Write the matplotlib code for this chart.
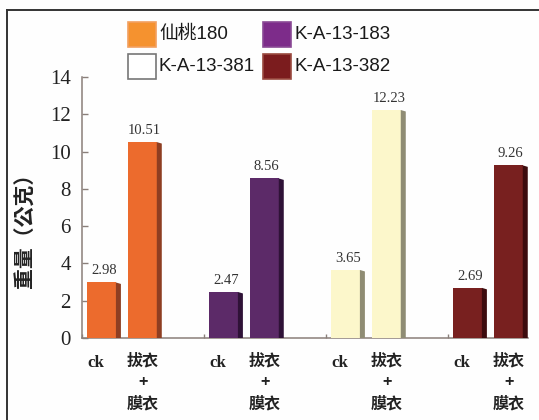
import matplotlib
matplotlib.use("Agg")
import matplotlib.pyplot as plt
from matplotlib.patches import Polygon, Rectangle
from matplotlib.lines import Line2D
from matplotlib.transforms import blended_transform_factory

# ---- data ----
varieties = ["仙桃180", "K-A-13-183", "K-A-13-381", "K-A-13-382"]
ck_values = [2.98, 2.47, 3.65, 2.69]
treated_values = [10.51, 8.56, 12.23, 9.26]
treatment_labels = ["ck", "拔衣\n+\n膜衣"]
y_ticks = [0, 2, 4, 6, 8, 10, 12, 14]
y_label = "重量（公克）"

# ---- styling ----
front_colors = ["#EC6B2D", "#5C2A68", "#FCF7CB", "#78201F"]
side_colors = ["#8E3E22", "#2F1237", "#8F8C74", "#3D0C0E"]
legend_colors = ["#F5922F", "#7D2C8A", "#FFFFFF", "#7B1C1E"]
legend_edges = ["#F2A060", "#8A4A95", "#777777", "#9A4A40"]
axis_color = "#8A7F7A"

W, H = 539, 420
fig = plt.figure(figsize=(W / 100, H / 100), dpi=100, facecolor="#FEFEFE")
ax = fig.add_axes([82 / W, 82 / H, 446 / W, 261 / H])
ax.set_facecolor("none")

front_w = 0.238
side_w = 0.041
offsets = [0.040, 0.375]
bevel = 0.08

for i in range(len(varieties)):
    for k, vals in enumerate([ck_values, treated_values]):
        x0 = i + offsets[k]
        h = vals[i]
        ax.bar(x0, h, width=front_w, align="edge", color=front_colors[i],
               edgecolor="none", zorder=3)
        x1 = x0 + front_w
        ax.add_patch(Polygon([(x1, 0), (x1 + side_w, 0), (x1 + side_w, h - bevel),
                              (x1, h)], closed=True, facecolor=side_colors[i],
                             edgecolor="none", zorder=3))
        ax.text(x0 + (front_w + side_w) / 2, h + 0.28, f"{h:.2f}",
                ha="center", va="bottom", fontsize=10.5,
                family="Liberation Serif", color="#333333", zorder=4)

ax.set_xlim(0, 3.656)
ax.set_ylim(0, 14)
ax.set_yticks(y_ticks)
ax.set_yticklabels([str(t) for t in y_ticks], family="Liberation Serif",
                   fontsize=15, color="#222222")
ax.set_xticks([0, 1, 2, 3])
ax.set_xticklabels([])
ax.tick_params(axis="y", direction="in", length=4, width=1, color=axis_color, pad=8)
ax.tick_params(axis="x", direction="in", length=3, width=1, color=axis_color)
for s in ["top", "right"]:
    ax.spines[s].set_visible(False)
for s in ["left", "bottom"]:
    ax.spines[s].set_color(axis_color)
    ax.spines[s].set_linewidth(1.1)

# category labels under each pair of bars
tr = blended_transform_factory(ax.transData, fig.transFigure)
cjk = ["Noto Sans CJK TC", "DejaVu Sans"]
for i in range(len(varieties)):
    ax.text(i + 0.115, 1 - 363 / H, treatment_labels[0], transform=tr,
            ha="center", va="center", fontsize=12, fontweight="bold",
            family="Liberation Serif", color="#222222")
    lines = treatment_labels[1].split("\n")
    for j, (line, py) in enumerate(zip(lines, [360, 382, 403])):
        ax.text(i + 0.50, 1 - py / H, line, transform=tr, ha="center",
                va="center", fontsize=11.5, fontweight="bold", family=cjk,
                color="#222222")

fig.text(25 / W, 1 - 225 / H, y_label, rotation=90, ha="center", va="center",
         fontsize=15, fontweight="bold", family=cjk, color="#222222")

# legend, two rows of two entries
legend_pos = [(128, 22), (263, 22), (128, 54), (263, 54)]
for (px, py), name, fc, ec in zip(legend_pos, varieties, legend_colors, legend_edges):
    fig.patches.append(Rectangle((px / W, 1 - (py + 25) / H), 28 / W, 25 / H,
                                 transform=fig.transFigure, facecolor=fc,
                                 edgecolor=ec, linewidth=1.2))
    fig.text((px + 31) / W, 1 - (py + 12.5) / H, name, ha="left", va="center",
             fontsize=13.5, family=["Liberation Sans", "Noto Sans CJK TC"],
             color="#1A1A1A")

# frame around the figure
fig.add_artist(Line2D([7 / W, 1], [1 - 9.5 / H] * 2, transform=fig.transFigure,
                      color="#333333", linewidth=1.4))
fig.add_artist(Line2D([7 / W] * 2, [0, 1 - 9.5 / H], transform=fig.transFigure,
                      color="#333333", linewidth=1.4))

fig.savefig("out.png", dpi=100, facecolor=fig.get_facecolor())
